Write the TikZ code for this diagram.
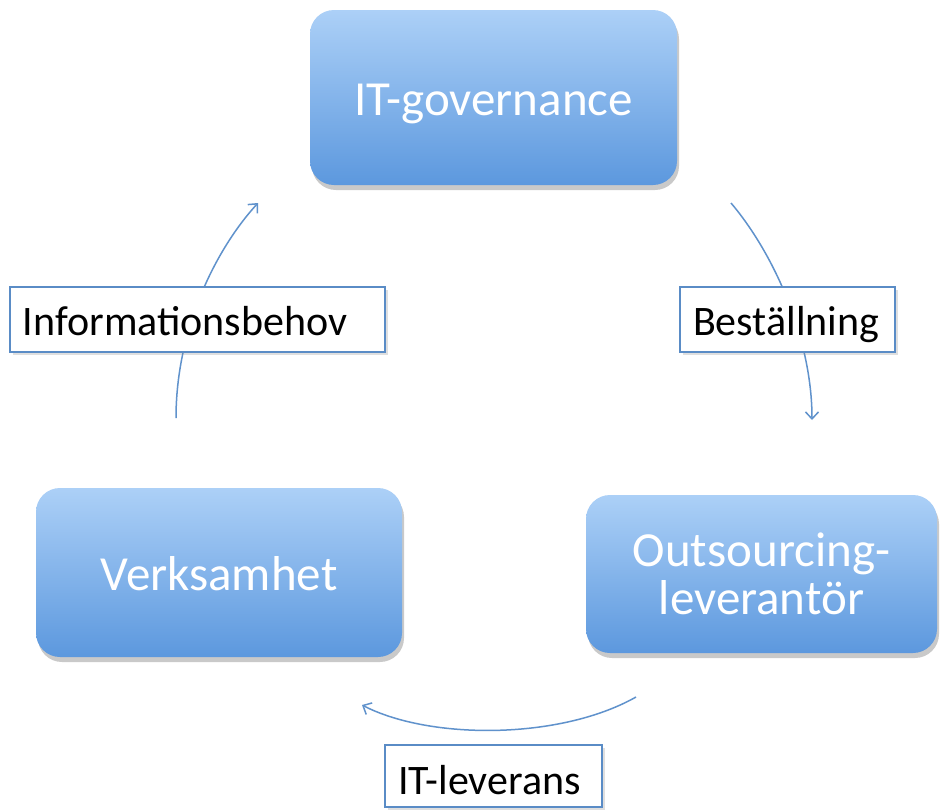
\documentclass[tikz,border=0pt]{standalone}
\usepackage{fontspec}
\setmainfont{Carlito}
\usetikzlibrary{arrows.meta,shadows}
\definecolor{boxtop}{RGB}{172,208,247}
\definecolor{boxbot}{RGB}{92,152,222}
\definecolor{edgeblue}{RGB}{90,140,198}
\definecolor{flowblue}{RGB}{96,146,204}
\tikzset{
  mainbox/.style={rectangle, rounded corners=24pt, top color=boxtop, bottom color=boxbot,
    draw=none, text=white, font=\fontsize{49}{50}\selectfont, align=center,
    drop shadow={shadow xshift=2pt, shadow yshift=-5pt, opacity=0.35, fill=black!60}},
  oneline/.style={text height=35pt, text depth=0pt},
  tag/.style={rectangle, draw=edgeblue, line width=1.5pt, fill=white, text=black,
    font=\fontsize{42}{44}\selectfont, align=left, minimum height=65pt,
    inner ysep=0pt, inner xsep=13pt, text height=32pt, text depth=-3pt,
    drop shadow={shadow xshift=3pt, shadow yshift=-3pt, opacity=0.25, fill=black!50}},
  flow/.style={draw=flowblue, line width=1.5pt, -{Straight Barb[length=7pt,width=13pt,line width=1.5pt]}}
}
\begin{document}
\begin{tikzpicture}[x=1pt,y=-1pt]
\useasboundingbox (0,0) rectangle (940,809);
\fill[white] (0,0) rectangle (940,809);

% the three parties of the cycle
\node[mainbox, oneline, minimum width=367pt, minimum height=175pt] (gov) at (493.5,97.5) {IT-governance};
\node[mainbox, oneline, minimum width=366pt, minimum height=169pt] (verk) at (219,572.5) {Verksamhet};
\node[mainbox, minimum width=351pt, minimum height=158pt] (outs) at (761.5,574) {Outsourcing-\\[-2pt]leverantör};

% free ends of the curved flows
\coordinate (a1s) at (176,418);
\coordinate (a1e) at (258,203);
\coordinate (a2s) at (731,203);
\coordinate (a2e) at (812,420);
\coordinate (a3s) at (636,697);
\coordinate (a3e) at (362,705);

\draw[flow] (a1s) .. controls (176,330) and (215,250) .. (a1e);
\draw[flow] (a2s) .. controls (775,255) and (812,340) .. (a2e);
\draw[flow] (a3s) .. controls (560,740) and (430,740) .. (a3e);

% flow labels
\node[tag, text width=349pt] (info) at (197.5,319.5) {Informationsbehov};
\node[tag, text width=189pt] (best) at (787.5,319.5) {Beställning};
\node[tag, text width=191pt, minimum height=62pt, text height=37pt] (lev) at (493.5,776) {IT-leverans};
\end{tikzpicture}
\end{document}
